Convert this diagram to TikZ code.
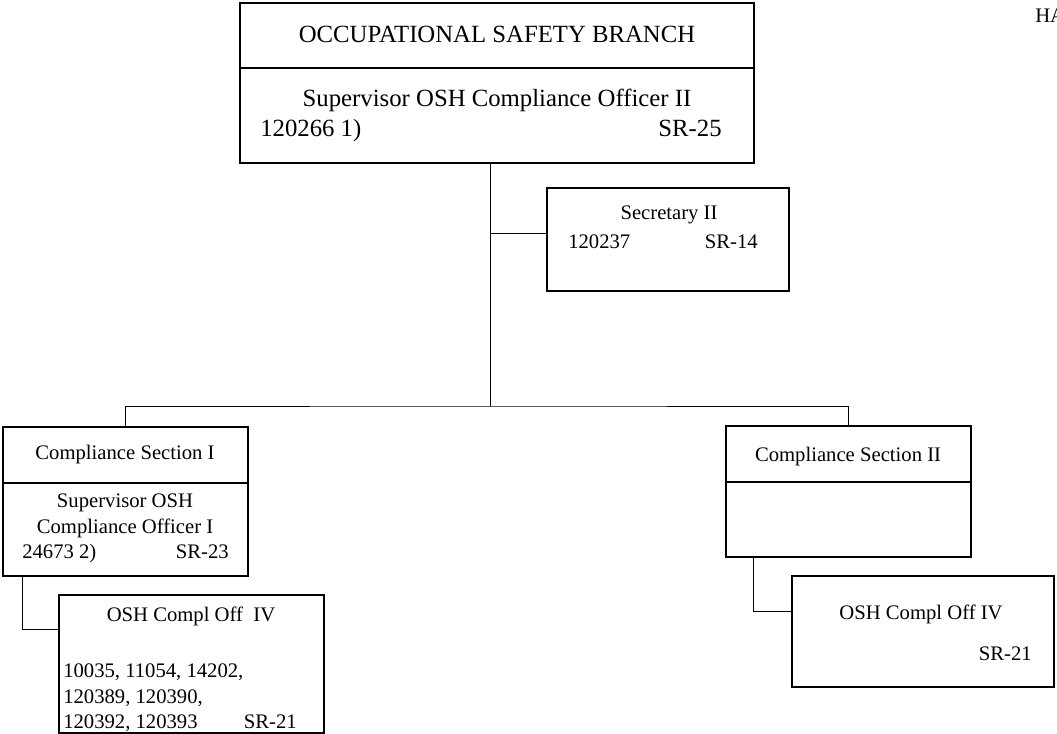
\documentclass[tikz,border=0pt]{standalone}
\usepackage{fontspec}
\setmainfont{Liberation Serif}
\usepackage{tikz}

\tikzset{
    box/.style={draw=black, line width=1.1pt, inner sep=0pt, outer sep=0pt},
    link/.style={draw=black, line width=0.7pt},
    bigtext/.style={inner sep=0pt, font=\fontsize{17.6}{21}\selectfont},
    smalltext/.style={inner sep=0pt, font=\fontsize{14.7}{18}\selectfont}
}

\begin{document}
\begin{tikzpicture}[x=0.025cm, y=-0.025cm]

\clip (0,0) rectangle (1057,734);
\fill[white] (0,0) rectangle (1057,734);

% boxes
\node[box, minimum width=12.85cm, minimum height=4cm] (branch) at (497,83) {};
\node[box, minimum width=6.05cm, minimum height=2.575cm] (secretary) at (668,239.5) {};
\node[box, minimum width=6.125cm, minimum height=3.725cm] (sectionone) at (125.5,501.5) {};
\node[box, minimum width=6.625cm, minimum height=3.45cm] (officerone) at (191.5,664) {};
\node[box, minimum width=6.125cm, minimum height=3.275cm] (sectiontwo) at (848.5,491.5) {};
\node[box, minimum width=6.55cm, minimum height=2.775cm] (officertwo) at (923,631.5) {};

% dividers
\draw[box] (branch.west |- 0,68) -- (branch.east |- 0,68);
\draw[box] (sectionone.west |- 0,483) -- (sectionone.east |- 0,483);
\draw[box] (sectiontwo.west |- 0,482) -- (sectiontwo.east |- 0,482);

% connectors
\coordinate (hub) at (490,406);
\draw[link] (branch.south -| hub) -- (hub);
\draw[link] ([yshift=0.16cm]secretary.west -| hub) -- ([yshift=0.16cm]secretary.west);
\draw[link] (sectionone.north) |- (hub) -| (sectiontwo.north);
\draw[link] ([xshift=0.5cm]sectionone.south west) |- ([yshift=0.875cm]officerone.west);
\draw[link] ([xshift=0.7cm]sectiontwo.south west) |- ([yshift=0.49cm]officertwo.west);

% branch
\node[bigtext, anchor=base] (branchname) at (497,43) {OCCUPATIONAL SAFETY BRANCH};
\node[bigtext, anchor=base] (branchhead) at (497,107) {Supervisor OSH Compliance Officer II};
\node[bigtext, anchor=base west] (branchpos) at (260,137) {120266 1)};
\node[bigtext, anchor=base east] (branchsr) at (722,137) {SR-25};

% secretary
\node[smalltext, anchor=base] (secname) at (669,220) {Secretary II};
\node[smalltext, anchor=base west] (secpos) at (568,249) {120237};
\node[smalltext, anchor=base east] (secsr) at (758,249) {SR-14};

% section I
\node[smalltext, anchor=base] (onename) at (125,459) {Compliance Section I};
\node[smalltext, anchor=base] (onehead) at (125,507) {Supervisor OSH};
\node[smalltext, anchor=base] (oneheadb) at (125,533) {Compliance Officer I};
\node[smalltext, anchor=base west] (onepos) at (22,558) {24673 2)};
\node[smalltext, anchor=base east] (onesr) at (229,558) {SR-23};

\node[smalltext, anchor=base] (offonename) at (191,621) {OSH Compl Off~~IV};
\node[smalltext, anchor=base west] (offonea) at (63,677) {10035, 11054, 14202,};
\node[smalltext, anchor=base west] (offoneb) at (63,703) {120389, 120390,};
\node[smalltext, anchor=base west] (offonec) at (63,728) {120392, 120393};
\node[smalltext, anchor=base east] (offonesr) at (297,728) {SR-21};

% section II
\node[smalltext, anchor=base] (twoname) at (848,461) {Compliance Section II};
\node[smalltext, anchor=base] (offtwoname) at (921,619) {OSH Compl Off IV};
\node[smalltext, anchor=base east] (offtwosr) at (1032,660) {SR-21};

\node[smalltext, anchor=base west] (corner) at (1035,23) {HA};

\end{tikzpicture}
\end{document}
